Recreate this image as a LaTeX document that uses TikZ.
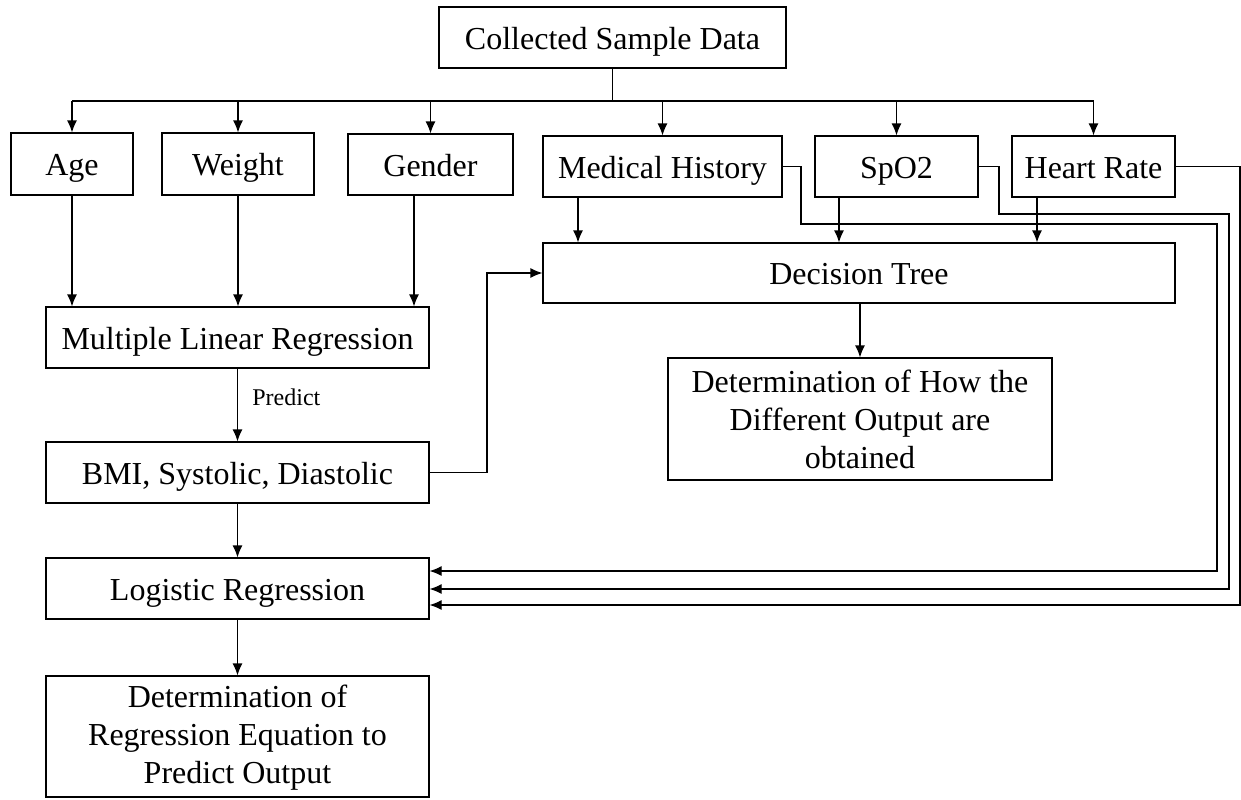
\documentclass[tikz,border=0pt]{standalone}
\usepackage{fontspec}
\setmainfont{Liberation Serif}
\usetikzlibrary{arrows.meta,calc}
\begin{document}
\begin{tikzpicture}[x=0.5pt,y=-0.5pt,
  box/.style={draw, line width=0.6pt, inner sep=0pt, align=center, font=\fontsize{16}{19}\selectfont},
  one/.style={box, text height=13pt, text depth=1.5pt},
  arr/.style={line width=0.6pt, -{Latex[length=6pt,width=5pt]}},
  ln/.style={line width=0.6pt}]
\useasboundingbox (0,0) rectangle (1241,799);
% nodes
\node[one, minimum width=173.5pt, minimum height=30.5pt] (col) at (612.5,37.5) {Collected Sample Data};
\node[one, minimum width=61pt, minimum height=31pt] (age) at (72,164) {Age};
\node[one, minimum width=76pt, minimum height=31pt] (weight) at (238,164) {Weight};
\node[one, minimum width=82.5pt, minimum height=30.5pt] (gender) at (430.5,164.5) {Gender};
\node[one, minimum width=119.5pt, minimum height=30.5pt] (med) at (662.5,166.5) {Medical History};
\node[one, minimum width=81.5pt, minimum height=30.5pt] (spo2) at (896.5,166.5) {SpO2};
\node[one, minimum width=81.5pt, minimum height=30.5pt] (hr) at (1093.5,166.5) {Heart Rate};
\node[one, minimum width=316pt, minimum height=30pt] (dt) at (859,273) {Decision Tree};
\node[box, minimum width=192pt, minimum height=61pt] (det2) at (860,419) {Determination of How the\\Different Output are\\obtained};
\node[one, minimum width=191.5pt, minimum height=30.5pt] (mlr) at (237.5,337.5) {Multiple Linear Regression};
\node[one, minimum width=191.5pt, minimum height=30.5pt] (bmi) at (237.5,472.5) {BMI, Systolic, Diastolic};
\node[one, minimum width=191.5pt, minimum height=30.5pt] (lr) at (237.5,588.5) {Logistic Regression};
\node[box, minimum width=191.5pt, minimum height=60.5pt] (det1) at (237.5,736.5) {\rule{0pt}{12pt}Determination of\\Regression Equation to\\Predict Output};
\node[anchor=west, inner sep=0pt, font=\fontsize{12}{14}\selectfont] (pred) at (252,397) {Predict};
% helper coordinates
\coordinate (busL) at (72,101);
\coordinate (busR) at (1093.5,101);
\coordinate (xg) at (414,0);
\coordinate (xm) at (578,0);
\coordinate (xs) at (839,0);
\coordinate (xh) at (1037,0);
\coordinate (xb) at (487,0);
\coordinate (m1) at (801,224);
\coordinate (m2) at (1217,571);
\coordinate (s1) at (999,214);
\coordinate (s2) at (1229,589);
\coordinate (h2) at (1240,605);
% top bus
\draw[ln] (col.south) -- (col.south |- busL);
\draw[ln] (busL) -- (busR);
\draw[arr] (busL) -- (age.north);
\draw[arr] (weight |- busL) -- (weight.north);
\draw[arr] (gender |- busL) -- (gender.north);
\draw[arr] (med |- busL) -- (med.north);
\draw[arr] (spo2 |- busL) -- (spo2.north);
\draw[arr] (busR) -- (hr.north);
% inputs to MLR
\draw[arr] (age.south) -- (age.south |- mlr.north);
\draw[arr] (weight.south) -- (weight.south |- mlr.north);
\draw[arr] (gender.south -| xg) -- (mlr.north -| xg);
% inputs to decision tree
\draw[arr] (med.south -| xm) -- (dt.north -| xm);
\draw[arr] (spo2.south -| xs) -- (dt.north -| xs);
\draw[arr] (hr.south -| xh) -- (dt.north -| xh);
\draw[arr] (dt.south -| det2.north) -- (det2.north);
% left column
\draw[arr] (mlr.south) -- (bmi.north);
\draw[arr] (bmi.south) -- (lr.north);
\draw[arr] (lr.south) -- (det1.north);
\draw[arr] (bmi.east) -- (bmi.east -| xb) |- (dt.west);
% right-side feeds to logistic regression
\draw[arr] (med.east) -| (m1) -| (m2) -- (m2 -| lr.east);
\draw[arr] (spo2.east) -| (s1) -| (s2) -- (s2 -| lr.east);
\draw[arr] (hr.east) -| (h2) -- (h2 -| lr.east);
\end{tikzpicture}
\end{document}
